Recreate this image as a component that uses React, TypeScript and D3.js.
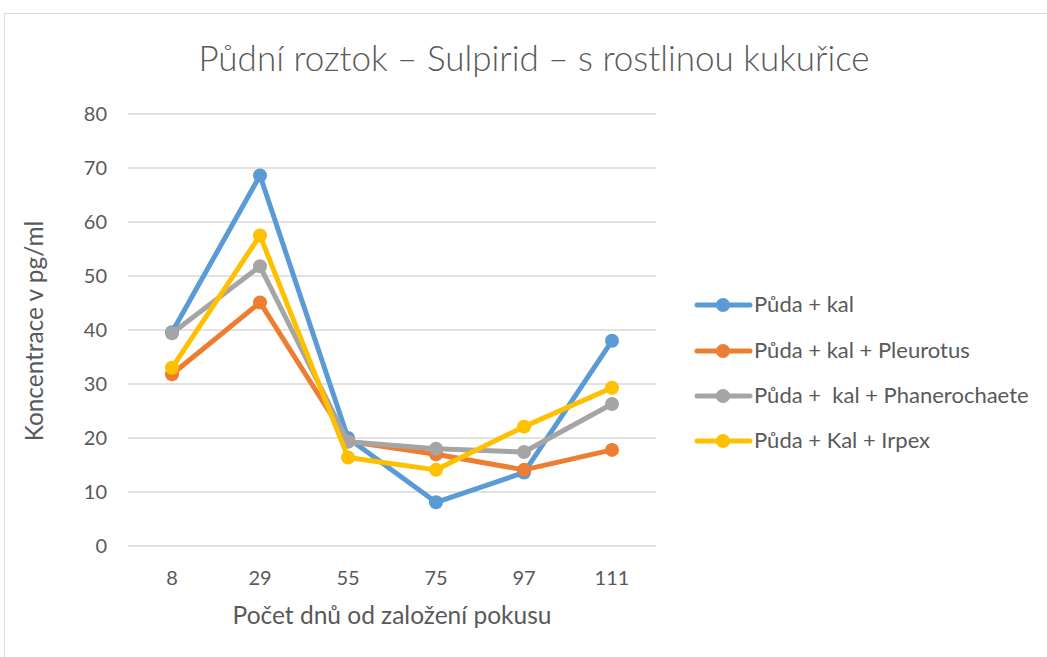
import React from "react";
import * as d3 from "d3";

const categories = ["8", "29", "55", "75", "97", "111"];
const seriesNames = [
  "Půda + kal",
  "Půda + kal + Pleurotus",
  "Půda +  kal + Phanerochaete",
  "Půda + Kal + Irpex",
];
const kal = [39.6, 68.6, 20.0, 8.1, 13.6, 38.0];
const pleurotus = [31.8, 45.1, 19.4, 17.0, 14.1, 17.8];
const phanerochaete = [39.4, 51.8, 19.3, 18.0, 17.4, 26.3];
const irpex = [33.0, 57.5, 16.4, 14.1, 22.1, 29.3];
const colors = ["#5b9bd5", "#ed7d31", "#a5a5a5", "#ffc000"];
const yTicks = [0, 10, 20, 30, 40, 50, 60, 70, 80];

export default function App() {
  const W = 1047, H = 657;
  const x = d3.scaleBand().domain(categories).range([128, 656]);
  const y = d3.scaleLinear().domain([0, 80]).range([546, 114]);
  const data = [kal, pleurotus, phanerochaete, irpex];
  const line = d3
    .line<number>()
    .x((_, i) => (x(categories[i]) as number) + x.bandwidth() / 2)
    .y((d) => y(d));
  const font = "Lato, 'Open Sans', sans-serif";
  const legendY = [305, 351, 396, 441];
  return (
    <svg
      width={W}
      height={H}
      style={{ position: "absolute", left: 0, top: 0, fontFamily: font }}
    >
      <rect x={0} y={0} width={W} height={H} fill="#fff" />
      <rect x={4.5} y={13.5} width={W + 10} height={H + 10} fill="#fff" stroke="#d9d9d9" />
      <text x={534} y={71} textAnchor="middle" fontSize={35} fill="#595959" fontWeight={300}>
        Půdní roztok – Sulpirid – s rostlinou kukuřice
      </text>
      {yTicks.map((t) => (
        <g key={t}>
          <line x1={128} x2={656} y1={y(t)} y2={y(t)} stroke="#d9d9d9" strokeWidth={1.3} />
          <text x={107} y={y(t) + 7} textAnchor="end" fontSize={20} fill="#595959">
            {t}
          </text>
        </g>
      ))}
      {categories.map((c) => (
        <text key={c} x={(x(c) as number) + x.bandwidth() / 2} y={585} textAnchor="middle" fontSize={20} fill="#595959">
          {c}
        </text>
      ))}
      <text x={392} y={624} textAnchor="middle" fontSize={24.5} fill="#595959">
        Počet dnů od založení pokusu
      </text>
      <text transform={`translate(43,331) rotate(-90)`} textAnchor="middle" fontSize={24.4} fill="#595959">
        Koncentrace v pg/ml
      </text>
      {data.map((s, si) => (
        <g key={si}>
          <path d={line(s) as string} fill="none" stroke={colors[si]} strokeWidth={5} strokeLinejoin="round" />
          {s.map((v, i) => (
            <circle key={i} cx={(x(categories[i]) as number) + x.bandwidth() / 2} cy={y(v)} r={7} fill={colors[si]} />
          ))}
        </g>
      ))}
      {seriesNames.map((n, i) => (
        <g key={n}>
          <line x1={697} x2={750} y1={legendY[i]} y2={legendY[i]} stroke={colors[i]} strokeWidth={5} strokeLinecap="round" />
          <circle cx={723} cy={legendY[i]} r={7} fill={colors[i]} />
          <text x={754} y={legendY[i] + 7} fontSize={22} fill="#595959" style={{ whiteSpace: "pre" }}>
            {n}
          </text>
        </g>
      ))}
    </svg>
  );
}
